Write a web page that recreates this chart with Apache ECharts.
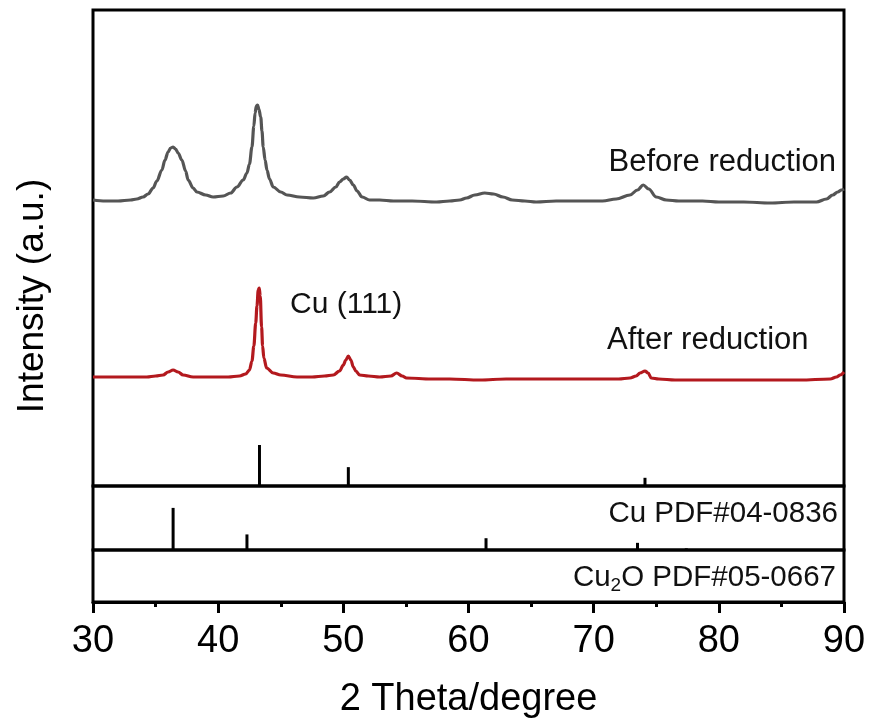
<!DOCTYPE html>
<html>
<head>
<meta charset="utf-8">
<script src="https://cdn.jsdelivr.net/npm/echarts@6/dist/echarts.min.js"></script>
<style>html,body{margin:0;padding:0;background:#fff}#c{width:869px;height:720px}</style>
</head>
<body>
<div id="c"></div>
<script>
// Before reduction (2θ, intensity a.u.)
const beforeX = [30.0,31.0,32.0,33.0,33.5,34.0,34.4,34.8,35.1,35.5,35.75,36.0,36.2,36.4,36.6,36.8,37.1,37.4,37.6,38.0,38.3,39.0,39.6,40.4,41.0,41.5,42.0,42.3,42.5,42.7,42.85,42.95,43.05,43.15,43.25,43.4,43.5,43.6,43.75,43.9,44.1,44.4,45.0,45.5,46.5,47.6,48.4,48.9,49.4,49.7,50.0,50.26,50.5,50.8,51.1,51.5,52.1,52.9,54.0,55.5,57.45,58.5,59.3,59.85,60.5,61.3,62.0,62.75,63.5,64.5,65.4,67.0,69.0,70.7,71.8,72.9,73.5,73.96,74.4,75.0,75.8,76.8,78.7,80.0,82.0,84.1,86.0,87.8,88.6,89.1,89.5,89.8,90.0];
const beforeY = [286,285,285,286,287,289,292,298,305,316,326,334,338,339,337,333,326,315,306,298,294,291,289,290,293,299,306,313,322,339,360,373,380,381,377,369,355,339,326,316,307,299,294,291,289,288,290,294,299,304,307,309,306,301,295,289,286,286,285,285,284,285,286,288,291,293,292,289,286,285,284,285,285,285,287,291,296,301,297,289,286,285,285,284,284,283,284,284,287,291,294,296,297];
// After reduction
const afterX = [30.0,31.0,32.0,33.0,34.3,35.0,35.6,36.0,36.4,36.8,37.2,38.0,39.6,40.8,41.7,42.2,42.5,42.7,42.85,43.0,43.1,43.2,43.28,43.36,43.47,43.55,43.65,43.87,44.4,45.0,46.3,47.5,48.5,49.2,49.7,50.0,50.2,50.4,50.6,50.8,51.0,51.3,52.0,52.9,53.8,54.26,54.7,55.05,57.0,58.5,60.9,63.0,65.0,68.1,70.0,72.0,72.9,73.4,73.7,74.1,74.35,74.6,75.2,76.5,78.7,81.0,84.1,86.5,88.9,89.4,89.7,90.0];
const afterY = [109,109,109,109,109,110,111,114,116,114,111,109,109,109,110,112,116,125,140,163,180,196,198,190,159,140,128,118,113,111,109,109,110,111,115,121,126,130,126,119,115,111,110,109,110,113,110,108,107,107,106,107,107,107,107,107,108,110,113,115,113,108,107,106,106,106,106,106,107,109,111,114];
// Reference patterns
const cuPos = [43.3, 50.4, 74.1];
const cuInt = [100, 46, 20];
const cu2oPos = [36.4, 42.3, 61.4, 73.5, 77.4];
const cu2oInt = [100, 37, 28, 17, 4];
const xTicks = [30, 40, 50, 60, 70, 80, 90];

const zip = (a, b) => a.map((v, i) => [v, b[i]]);
const FONT = 'Liberation Sans, Arial, sans-serif';
const chart = echarts.init(document.getElementById('c'));
const border = {show: true, borderColor: '#000', borderWidth: 3, backgroundColor: 'transparent'};
const hiddenX = (gi) => ({type: 'value', gridIndex: gi, min: 30, max: 90, show: false});
chart.setOption({
  animation: false,
  grid: [
    Object.assign({left: 93, right: 25, top: 10, height: 476}, border),
    Object.assign({left: 93, right: 25, top: 486, height: 64}, border),
    Object.assign({left: 93, right: 25, top: 550, height: 66}, border)
  ],
  xAxis: [
    hiddenX(0), hiddenX(1),
    {type: 'value', gridIndex: 2, min: xTicks[0], max: xTicks[xTicks.length - 1], interval: 10,
     name: '2 Theta/degree', nameLocation: 'middle', nameGap: 79,
     nameTextStyle: {fontFamily: FONT, fontSize: 38, color: '#000'},
     axisLine: {show: true, lineStyle: {color: '#000', width: 3}},
     axisTick: {show: true, inside: false, length: 11, lineStyle: {color: '#000', width: 3}},
     minorTick: {show: true, splitNumber: 2, length: 5, lineStyle: {color: '#000', width: 3}},
     splitLine: {show: false},
     axisLabel: {fontFamily: FONT, fontSize: 38, color: '#000', margin: 21}}
  ],
  yAxis: [
    {type: 'value', gridIndex: 0, min: 0, max: 476, show: false},
    {type: 'value', gridIndex: 0, min: 0, max: 1161, show: false},
    {type: 'value', gridIndex: 1, min: 0, max: 152, show: false},
    {type: 'value', gridIndex: 2, min: 0, max: 100, show: false}
  ],
  series: [
    {type: 'line', xAxisIndex: 0, yAxisIndex: 0, data: zip(beforeX, beforeY), showSymbol: false,
     smooth: 0.35, smoothMonotone: 'x', lineStyle: {color: '#555555', width: 3.2}, z: 3},
    {type: 'line', xAxisIndex: 0, yAxisIndex: 0, data: zip(afterX, afterY), showSymbol: false,
     smooth: 0.35, smoothMonotone: 'x', lineStyle: {color: '#b3191e', width: 3.2}, z: 3},
    {type: 'bar', xAxisIndex: 0, yAxisIndex: 1, data: zip(cuPos, cuInt), barWidth: 3,
     itemStyle: {color: '#000'}},
    {type: 'bar', xAxisIndex: 1, yAxisIndex: 2, data: zip(cu2oPos, cu2oInt), barWidth: 3,
     itemStyle: {color: '#000'}}
  ],
  graphic: [
    {type: 'text', x: 33, y: 296, rotation: Math.PI / 2, style: {text: 'Intensity (a.u.)', fontFamily: FONT, fontSize: 37, fill: '#000', align: 'center', verticalAlign: 'middle'}},
    {type: 'text', x: 836, y: 162, style: {text: 'Before reduction', fontFamily: FONT, fontSize: 31, fill: '#111', align: 'right', verticalAlign: 'middle'}},
    {type: 'text', x: 607, y: 340, style: {text: 'After reduction', fontFamily: FONT, fontSize: 31, fill: '#111', align: 'left', verticalAlign: 'middle'}},
    {type: 'text', x: 290, y: 305, style: {text: 'Cu (111)', fontFamily: FONT, fontSize: 30, fill: '#111', align: 'left', verticalAlign: 'middle'}},
    {type: 'text', x: 838, y: 514, style: {text: 'Cu PDF#04-0836', fontFamily: FONT, fontSize: 29.5, fill: '#111', align: 'right', verticalAlign: 'middle'}},
    {type: 'text', x: 836, y: 578, style: {text: '{a|Cu}{s|2}{a|O PDF#05-0667}', fontFamily: FONT, fontSize: 29.5, fill: '#111', align: 'right', verticalAlign: 'middle',
      rich: {a: {fontFamily: FONT, fontSize: 29.5, fill: '#111'}, s: {fontFamily: FONT, fontSize: 19, fill: '#111', padding: [15, 0, 0, 0]}}}}
  ]
});
</script>
</body>
</html>
